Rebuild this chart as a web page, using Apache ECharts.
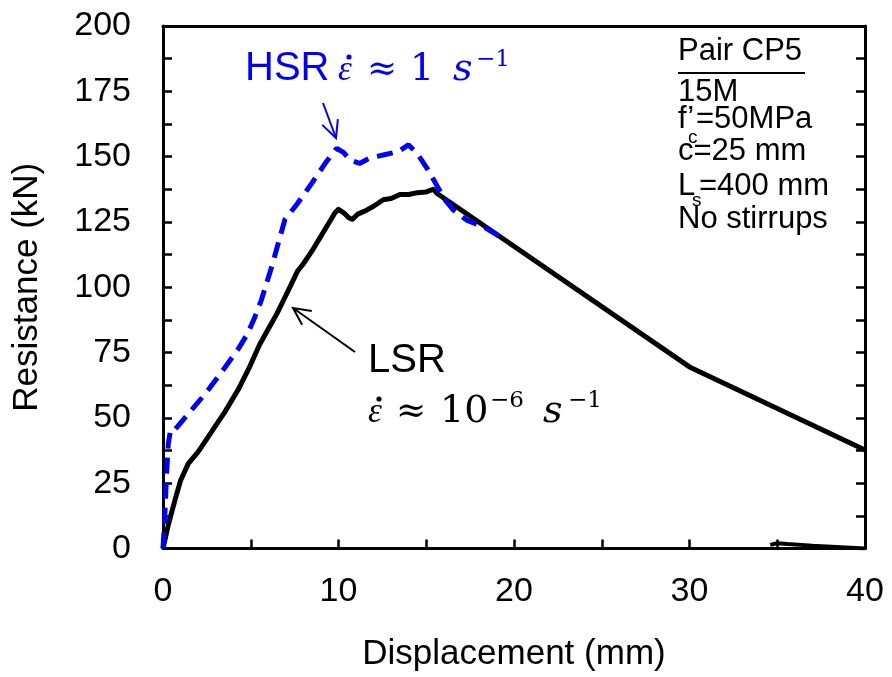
<!DOCTYPE html>
<html><head><meta charset="utf-8">
<script src="https://cdn.jsdelivr.net/npm/echarts@6/dist/echarts.min.js"></script>
<style>html,body{margin:0;padding:0;background:#fff}#c{width:892px;height:677px}</style>
</head><body><div id="c"></div>
<script>
// ---- data ----
const xTickLabels = [0, 10, 20, 30, 40];
const yTickLabels = [0, 25, 50, 75, 100, 125, 150, 175, 200];

const lsrDisp = [0, 0.3, 0.7, 1.0, 1.44, 2.0, 2.5, 3.0, 3.5, 4.3, 4.9, 5.5, 6.0, 6.5, 6.9, 7.3, 7.65, 8.0, 8.5, 8.95, 9.4, 9.8, 10.0, 10.3, 10.6, 10.8, 11.1, 11.6, 12.0, 12.55, 13.0, 13.5, 14.0, 14.5, 15.0, 15.4, 15.6, 30, 40];
const lsrLoad = [0, 9, 19, 26, 32.5, 37, 42, 47, 52, 61, 69, 78, 84, 90, 95.5, 101, 106, 109, 114, 119, 124, 128.5, 129.8, 128.5, 126.5, 126, 128, 129.5, 131, 133.5, 134, 135.5, 135.5, 136.2, 136.5, 137.5, 136, 69.5, 37.7];

const lsrTailDisp = [34.6, 35.0, 35.6, 37, 40];
const lsrTailLoad = [1.4, 2.0, 1.7, 1.1, 0];

const hsrDisp = [0, 0.1, 0.2, 0.3, 0.42, 0.55, 1.5, 2.5, 3.5, 4.3, 4.8, 5.2, 5.6, 6.2, 6.95, 7.6, 8.5, 9.3, 9.9, 10.3, 10.65, 11.2, 11.8, 12.55, 13.4, 13.98, 14.45, 15.0, 15.6, 16.07, 16.54, 17.3, 18.25, 19.2];
const hsrLoad = [0, 12, 28, 40, 45, 44.5, 52, 60, 69, 76.5, 82, 88, 95, 108, 126, 131.5, 140, 148, 153.2, 151.5, 148.7, 147.4, 149.5, 150.6, 151.9, 154.5, 151.5, 146, 139, 133.4, 129.6, 125.7, 123.2, 119.4];

const zip = (a, b) => a.map((v, i) => [v, b[i]]);

const SANS = '"Liberation Sans", Arial, sans-serif';
const LSERIF = '"Liberation Serif", serif';
const DSERIF = '"DejaVu Serif", serif';
const BLUE = '#0000ff';

function txt(t, x, base, size, color, family, style) {
  const mid = base - 0.3465 * size;
  return { type: 'text', x: x, y: mid, z: 100,
    style: { text: t, fill: color, font: (style || 'normal') + ' ' + size + 'px ' + family,
             align: 'left', verticalAlign: 'middle' } };
}
function dot(cx, cy, color) {
  return { type: 'circle', z: 101, shape: { cx: cx, cy: cy, r: 2.6 }, style: { fill: color, stroke: null } };
}
function line(x1, y1, x2, y2, color, w) {
  return { type: 'line', z: 100, shape: { x1, y1, x2, y2 }, style: { stroke: color, lineWidth: w } };
}
function arrow(fx, fy, tx, ty, color, w, len, angDeg) {
  const a = Math.atan2(fy - ty, fx - tx), d = angDeg * Math.PI / 180;
  return [
    line(fx, fy, tx, ty, color, w),
    { type: 'polyline', z: 100, shape: { points: [
      [tx + len * Math.cos(a + d), ty + len * Math.sin(a + d)], [tx, ty],
      [tx + len * Math.cos(a - d), ty + len * Math.sin(a - d)]] },
      style: { stroke: color, lineWidth: w, fill: null } }
  ];
}

const graphics = [
  // HSR label
  txt('HSR', 245, 83, 40, BLUE, SANS),
  txt('\u03b5', 338, 83, 35, BLUE, LSERIF, 'italic'),
  dot(349, 57, BLUE),
  txt('\u2248', 367, 83, 36, BLUE, DSERIF),
  txt('1', 410, 83, 38, BLUE, DSERIF),
  txt('s', 453, 83, 38, BLUE, DSERIF, 'italic'),
  txt('\u22121', 476, 68, 23, BLUE, DSERIF),
  ...arrow(323, 103, 336, 138, BLUE, 2, 19, 26),
  // LSR label
  txt('LSR', 368, 375, 40, '#000', SANS),
  txt('\u03b5', 368, 425, 35, '#000', LSERIF, 'italic'),
  dot(379, 399, '#000'),
  txt('\u2248', 396, 425, 36, '#000', DSERIF),
  txt('10', 440, 425, 38, '#000', DSERIF),
  txt('\u22126', 490, 409, 23, '#000', DSERIF),
  txt('s', 543, 425, 38, '#000', DSERIF, 'italic'),
  txt('\u22121', 568, 409, 23, '#000', DSERIF),
  ...arrow(355, 352, 293, 308, '#000', 2, 19, 26),
  // info block
  txt('Pair CP5', 678, 62, 31, '#000', SANS),
  line(678, 73, 805, 73, '#000', 2),
  txt('15M', 678, 103, 31, '#000', SANS),
  txt('f\u2019', 678, 130, 31, '#000', SANS),
  txt('c', 688, 144, 19, '#000', SANS),
  txt('=50MPa', 696, 130, 31, '#000', SANS),
  txt('c=25 mm', 678, 162, 31, '#000', SANS),
  txt('L', 678, 197, 31, '#000', SANS),
  txt('s', 692, 207, 19, '#000', SANS),
  txt('=400 mm', 699, 197, 31, '#000', SANS),
  txt('No stirrups', 678, 230, 31, '#000', SANS)
];

const axisLineStyle = { color: '#000', width: 3 };
const tickStyle = { color: '#000', width: 2.5 };

const option = {
  animation: false,
  backgroundColor: '#fff',
  grid: { left: 163, right: 27, top: 26, bottom: 128.5, containLabel: false },
  xAxis: [
    { type: 'value', position: 'bottom', min: 0, max: 40, interval: 5,
      axisLine: { onZero: false, lineStyle: axisLineStyle },
      axisTick: { inside: true, length: 9, lineStyle: tickStyle },
      axisLabel: { margin: 26, fontSize: 34, color: '#000', fontFamily: SANS,
        formatter: v => xTickLabels.includes(v) ? String(v) : '' },
      splitLine: { show: false },
      name: 'Displacement (mm)', nameLocation: 'middle', nameGap: 88,
      nameTextStyle: { fontSize: 35, color: '#000', fontFamily: SANS } },
    { type: 'value', position: 'top', min: 0, max: 40,
      axisLine: { onZero: false, lineStyle: axisLineStyle },
      axisTick: { show: false }, axisLabel: { show: false }, splitLine: { show: false } }
  ],
  yAxis: [
    { type: 'value', position: 'left', min: 0, max: 200, interval: 12.5,
      axisLine: { onZero: false, lineStyle: axisLineStyle },
      axisTick: { inside: true, length: 9, lineStyle: tickStyle },
      axisLabel: { margin: 32, fontSize: 34, color: '#000', fontFamily: SANS,
        formatter: v => yTickLabels.includes(v) ? String(v) : '' },
      splitLine: { show: false },
      name: 'Resistance (kN)', nameLocation: 'middle', nameGap: 118, nameRotate: 90,
      nameTextStyle: { fontSize: 35, color: '#000', fontFamily: SANS } },
    { type: 'value', position: 'right', min: 0, max: 200, interval: 12.5,
      axisLine: { onZero: false, lineStyle: axisLineStyle },
      axisTick: { inside: true, length: 9, lineStyle: tickStyle },
      axisLabel: { show: false }, splitLine: { show: false } }
  ],
  series: [
    { name: 'LSR', type: 'line', data: zip(lsrDisp, lsrLoad), symbol: 'none',
      lineStyle: { color: '#000', width: 5, join: 'round' }, z: 2 },
    { name: 'LSR tail', type: 'line', data: zip(lsrTailDisp, lsrTailLoad), symbol: 'none',
      lineStyle: { color: '#000', width: 4 }, z: 2 },
    { name: 'HSR', type: 'line', data: zip(hsrDisp, hsrLoad), symbol: 'none',
      lineStyle: { color: BLUE, width: 5, type: [16, 9], cap: 'butt' }, z: 3 }
  ],
  graphic: graphics
};

const chart = echarts.init(document.getElementById('c'), null, { renderer: 'canvas' });
chart.setOption(option);
</script>
</body></html>
